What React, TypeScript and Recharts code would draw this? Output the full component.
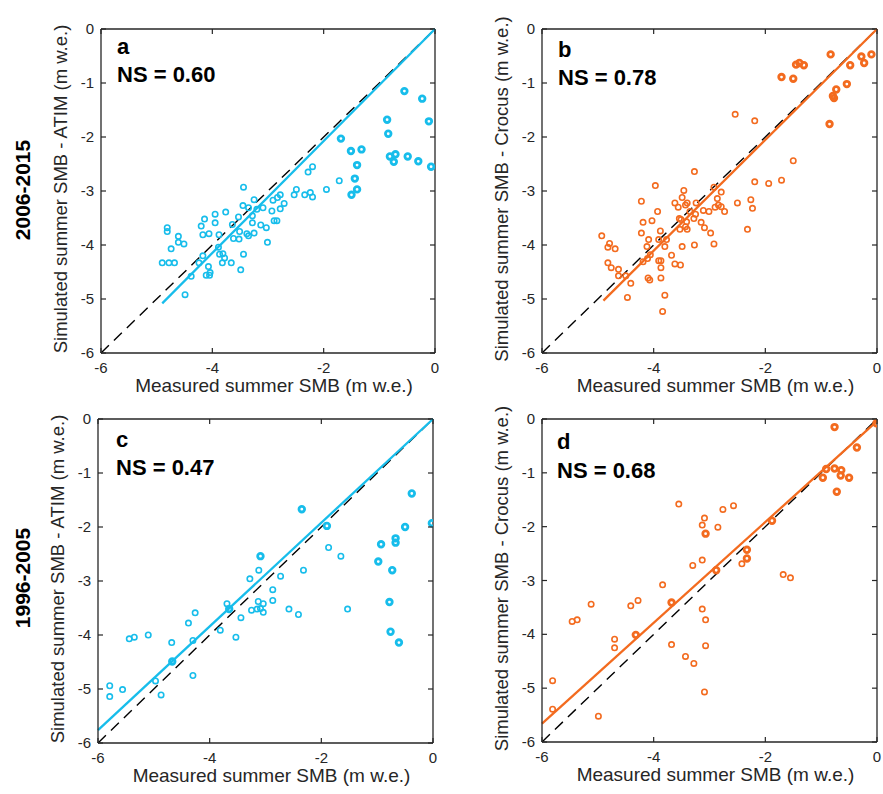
import React from 'react';
import { ScatterChart, Scatter, XAxis, YAxis, ReferenceLine } from 'recharts';

type Pt = { x: number; y: number };
const toPts = (arr: number[][]): Pt[] => arr.map(([x, y]) => ({ x, y }));

const xTicks = [-6, -4, -2, 0];
const yTicks = [0, -1, -2, -3, -4, -5, -6];
const oneToOne = [{ x: -6, y: -6 }, { x: 0, y: 0 }];

const CYAN = '#17bdeb';
const ORANGE = '#f36b1f';

// Panel a: 2006-2015, ATIM
const atimRecentOpen = [
  [-2.20, -2.55], [-2.28, -2.65], [-1.72, -2.81], [-1.95, -2.97], [-2.49, -2.97], [-2.53, -3.07], [-2.34, -3.07],
  [-2.24, -3.03], [-2.20, -3.11], [-2.78, -3.07], [-2.71, -3.23], [-2.83, -3.12], [-2.91, -3.17], [-2.78, -3.33],
  [-2.93, -3.37], [-2.89, -3.55], [-2.84, -3.55], [-3.13, -3.63], [-3.03, -3.68], [-3.01, -3.95], [-3.44, -2.93],
  [-3.25, -3.16], [-3.45, -3.27], [-3.35, -3.31], [-3.20, -3.34], [-3.09, -3.31], [-3.28, -3.46], [-3.53, -3.48],
  [-3.28, -3.59], [-3.51, -3.75], [-3.38, -3.79], [-3.25, -3.78], [-3.35, -3.83], [-3.52, -3.89], [-3.62, -3.88],
  [-3.64, -3.62], [-3.44, -4.17], [-3.49, -4.46], [-3.76, -3.39], [-3.95, -3.43], [-3.95, -3.59], [-4.14, -3.52],
  [-4.20, -3.65], [-4.17, -3.81], [-4.06, -3.79], [-3.88, -3.81], [-3.89, -4.04], [-3.87, -4.17], [-3.81, -4.16],
  [-3.78, -4.24], [-3.82, -4.33], [-3.66, -4.33], [-4.17, -4.20], [-4.24, -4.33], [-4.07, -4.40], [-4.04, -4.51],
  [-4.11, -4.56], [-4.05, -4.56], [-4.38, -4.58], [-4.49, -4.92], [-4.81, -3.68], [-4.81, -3.75], [-4.74, -4.07],
  [-4.61, -3.84], [-4.61, -3.95], [-4.51, -3.98], [-4.90, -4.33], [-4.78, -4.33], [-4.68, -4.33],
];
const atimRecentBold = [
  [-0.55, -1.15], [-0.23, -1.29], [-0.11, -1.71], [-0.86, -1.68], [-0.84, -1.94], [-0.81, -2.36], [-0.71, -2.32],
  [-0.74, -2.46], [-0.49, -2.36], [-0.30, -2.45], [-0.07, -2.55], [-1.69, -2.03], [-1.51, -2.26], [-1.32, -2.23],
  [-1.40, -2.52], [-1.44, -2.77], [-1.40, -2.97], [-1.50, -3.07],
];
const atimRecentFit = [[-4.9, -5.08], [0, 0]];

// Panel b: 2006-2015, Crocus
const crocusRecentOpen = [
  [-2.54, -1.58], [-2.19, -1.70], [-1.50, -2.44], [-2.19, -2.83], [-1.94, -2.86], [-1.71, -2.80], [-2.26, -3.16],
  [-2.23, -3.32], [-2.32, -3.71], [-2.50, -3.22], [-3.27, -2.64], [-3.97, -2.90], [-3.46, -2.99], [-2.92, -2.93],
  [-2.79, -3.02], [-2.86, -3.14], [-2.84, -3.26], [-2.79, -3.29], [-2.90, -3.30], [-2.73, -3.38], [-3.01, -3.38],
  [-3.11, -3.36], [-3.49, -3.12], [-3.62, -3.22], [-3.56, -3.30], [-3.43, -3.26], [-3.40, -3.22], [-3.24, -3.22],
  [-3.35, -3.38], [-3.25, -3.43], [-3.28, -3.51], [-3.54, -3.51], [-3.51, -3.53], [-3.41, -3.57], [-3.43, -3.66],
  [-3.40, -3.71], [-3.53, -3.71], [-3.15, -3.58], [-3.09, -3.68], [-2.98, -3.78], [-2.92, -3.98], [-3.27, -4.00],
  [-3.49, -4.03], [-4.22, -3.19], [-3.93, -3.38], [-4.19, -3.58], [-4.03, -3.55], [-4.22, -3.78], [-3.88, -3.74],
  [-4.09, -3.90], [-3.91, -3.90], [-3.77, -3.90], [-4.12, -4.03], [-3.80, -4.03], [-4.06, -4.18], [-4.11, -4.25],
  [-3.68, -4.19], [-3.91, -4.29], [-3.87, -4.29], [-3.87, -4.42], [-3.62, -4.35], [-3.52, -4.37], [-4.19, -4.31],
  [-4.10, -4.61], [-4.07, -4.65], [-3.87, -4.61], [-4.41, -4.71], [-4.47, -4.97], [-3.80, -4.93], [-3.84, -5.23],
  [-4.93, -3.83], [-4.79, -3.97], [-4.82, -4.04], [-4.69, -4.07], [-4.82, -4.33], [-4.76, -4.42], [-4.63, -4.45],
  [-4.63, -4.57], [-4.50, -4.57],
];
const crocusRecentBold = [
  [-0.83, -0.47], [-1.45, -0.66], [-1.39, -0.63], [-1.31, -0.67], [-1.71, -0.89], [-1.50, -0.92], [-0.28, -0.51],
  [-0.10, -0.47], [-0.48, -0.67], [-0.23, -0.63], [-0.54, -1.02], [-0.73, -1.12], [-0.79, -1.24], [-0.77, -1.28],
  [-0.85, -1.76],
];
const crocusRecentFit = [[-4.9, -5.03], [0, 0]];

// Panel c: 1996-2005, ATIM
const atimEarlyOpen = [
  [-1.87, -2.38], [-1.65, -2.54], [-2.32, -2.80], [-1.53, -3.52], [-2.73, -2.91], [-3.12, -2.80], [-3.28, -2.96],
  [-2.87, -3.16], [-2.87, -3.36], [-3.13, -3.38], [-3.04, -3.42], [-3.09, -3.51], [-3.15, -3.52], [-3.04, -3.58],
  [-3.25, -3.54], [-2.58, -3.52], [-2.41, -3.62], [-3.69, -3.42], [-3.44, -3.68], [-3.81, -3.91], [-3.53, -4.04],
  [-4.26, -3.59], [-4.38, -3.78], [-4.30, -4.10], [-4.68, -4.14], [-4.30, -4.75], [-5.10, -4.00], [-5.35, -4.04],
  [-5.44, -4.07], [-4.97, -4.85], [-4.87, -5.11], [-5.56, -5.01], [-5.79, -4.94], [-5.79, -5.14],
];
const atimEarlyBold = [
  [-2.35, -1.67], [-1.90, -1.98], [-3.09, -2.54], [-3.65, -3.52], [-4.67, -4.49], [-0.38, -1.38], [-0.02, -1.93],
  [-0.50, -2.00], [-0.93, -2.32], [-0.67, -2.21], [-0.67, -2.29], [-0.98, -2.64], [-0.73, -2.80], [-0.78, -3.39],
  [-0.76, -3.94], [-0.61, -4.14],
];
const atimEarlyFit = [[-6, -5.76], [0, 0]];

// Panel d: 1996-2005, Crocus
const crocusEarlyOpen = [
  [-3.55, -1.58], [-2.76, -1.68], [-2.57, -1.61], [-3.09, -1.84], [-3.13, -1.97], [-2.85, -2.01], [-3.13, -2.62],
  [-3.30, -2.72], [-2.42, -2.69], [-1.68, -2.89], [-1.55, -2.95], [-3.84, -3.08], [-3.13, -3.53], [-3.07, -3.73],
  [-3.07, -4.21], [-3.09, -5.07], [-3.68, -4.19], [-3.43, -4.41], [-3.28, -4.54], [-4.41, -3.47], [-4.28, -3.37],
  [-5.12, -3.44], [-5.46, -3.76], [-5.37, -3.73], [-4.70, -4.09], [-4.70, -4.25], [-4.99, -5.52], [-5.81, -4.86],
  [-5.81, -5.39],
];
const crocusEarlyBold = [
  [-0.76, -0.15], [-0.36, -0.53], [-0.01, -0.08], [-0.91, -0.93], [-0.76, -0.92], [-0.64, -0.95], [-0.65, -1.05],
  [-0.97, -1.09], [-0.50, -1.09], [-0.72, -1.35], [-1.88, -1.89], [-3.07, -2.13], [-2.33, -2.43], [-2.33, -2.59],
  [-2.88, -2.81], [-3.68, -3.41], [-4.32, -4.01],
];
const crocusEarlyFit = [[-6, -5.66], [0, -0.04]];

const AX = '#262626';
const FONT = '"Liberation Sans", Arial, Helvetica, sans-serif';

type PanelProps = {
  left: number; top: number; w: number; h: number;
  color: string; open: number[][]; bold: number[][]; fit: number[][];
};

function Panel({ left, top, w, h, color, open, bold, fit }: PanelProps) {
  const ML = 60, MT = 10, MR = 10, XH = 50;
  const XTick = (p: any) => {
    const { x, y, payload } = p;
    return (
      <g>
        <line x1={x} x2={x} y1={y} y2={y - 5} stroke={AX} strokeWidth={1.2} />
        <line x1={x} x2={x} y1={y - h} y2={y - h + 5} stroke={AX} strokeWidth={1.2} />
        <text x={x} y={y + 20} textAnchor="middle" fontSize={15} fill={AX} fontFamily={FONT}>{String(payload.value)}</text>
      </g>
    );
  };
  const YTick = (p: any) => {
    const { x, y, payload } = p;
    return (
      <g>
        <line x1={x} x2={x + 5} y1={y} y2={y} stroke={AX} strokeWidth={1.2} />
        <line x1={x + w} x2={x + w - 5} y1={y} y2={y} stroke={AX} strokeWidth={1.2} />
        <text x={x - 7} y={y + 5} textAnchor="end" fontSize={15} fill={AX} fontFamily={FONT}>{String(payload.value)}</text>
      </g>
    );
  };
  const openShape = (p: any) => (
    <circle cx={p.cx} cy={p.cy} r={2.7} fill="none" stroke={color} strokeWidth={1.6} />
  );
  const boldShape = (p: any) => (
    <circle cx={p.cx} cy={p.cy} r={2.8} fill="none" stroke={color} strokeWidth={2.8} />
  );
  return (
    <div style={{ position: 'absolute', left: left - ML, top: top - MT }}>
      <ScatterChart width={ML + w + MR} height={MT + h + XH} margin={{ top: MT, right: MR, bottom: 0, left: 0 }}>
        <XAxis type="number" dataKey="x" domain={[-6, 0]} ticks={xTicks} interval={0} allowDataOverflow
          tickSize={0} tickMargin={0} tick={(p: any) => <XTick {...p} />} height={XH}
          axisLine={{ stroke: AX, strokeWidth: 1.3 }} tickLine={false} />
        <YAxis type="number" dataKey="y" domain={[-6, 0]} ticks={yTicks} interval={0} allowDataOverflow
          tickSize={0} tickMargin={0} tick={(p: any) => <YTick {...p} />} width={ML}
          axisLine={{ stroke: AX, strokeWidth: 1.3 }} tickLine={false} />
        <ReferenceLine y={0} stroke={AX} strokeWidth={1.3} />
        <ReferenceLine x={0} stroke={AX} strokeWidth={1.3} />
        <Scatter data={toPts(open)} shape={openShape} isAnimationActive={false} />
        <Scatter data={toPts(bold)} shape={boldShape} isAnimationActive={false} />
        <ReferenceLine segment={oneToOne} stroke="#000" strokeWidth={1.4} strokeDasharray="11 7" />
        <ReferenceLine segment={toPts(fit)} stroke={color} strokeWidth={2.3} />
      </ScatterChart>
    </div>
  );
}

const panels = [
  { left: 101, top: 29, w: 334, h: 324, color: CYAN, open: atimRecentOpen, bold: atimRecentBold, fit: atimRecentFit,
    letter: 'a', ns: 'NS = 0.60', ylab: 'Simulated summer SMB - ATIM (m w.e.)', lx: 16, lb: 25, nb: 53 },
  { left: 542, top: 29, w: 335, h: 324, color: ORANGE, open: crocusRecentOpen, bold: crocusRecentBold, fit: crocusRecentFit,
    letter: 'b', ns: 'NS = 0.78', ylab: 'Simulated summer SMB - Crocus (m w.e.)', lx: 16, lb: 28, nb: 56 },
  { left: 98, top: 419, w: 335, h: 324, color: CYAN, open: atimEarlyOpen, bold: atimEarlyBold, fit: atimEarlyFit,
    letter: 'c', ns: 'NS = 0.47', ylab: 'Simulated summer SMB - ATIM (m w.e.)', lx: 18, lb: 28, nb: 56 },
  { left: 542, top: 419, w: 335, h: 323, color: ORANGE, open: crocusEarlyOpen, bold: crocusEarlyBold, fit: crocusEarlyFit,
    letter: 'd', ns: 'NS = 0.68', ylab: 'Simulated summer SMB - Crocus (m w.e.)', lx: 15, lb: 30, nb: 59 },
];

const rowLabels = [
  { text: '2006-2015', cy: 190 },
  { text: '1996-2005', cy: 578 },
];

export default function App() {
  return (
    <div style={{ position: 'absolute', left: 0, top: 0, width: 883, height: 794, background: '#fff', overflow: 'hidden' }}>
      {panels.map((p) => (
        <Panel key={p.letter} left={p.left} top={p.top} w={p.w} h={p.h} color={p.color} open={p.open} bold={p.bold} fit={p.fit} />
      ))}
      <svg width={883} height={794} style={{ position: 'absolute', left: 0, top: 0, pointerEvents: 'none' }} fontFamily={FONT}>
        {panels.map((p) => (
          <g key={'t' + p.letter}>
            <text x={p.left + p.lx} y={p.top + p.lb} fontSize={22} fontWeight="bold" fill="#000">{p.letter}</text>
            <text x={p.left + p.lx} y={p.top + p.nb} fontSize={22} fontWeight="bold" fill="#000">{p.ns}</text>
            <text x={p.left + p.w / 2 + 6} y={p.top + p.h + 39} fontSize={19} fill={AX} textAnchor="middle">Measured summer SMB (m w.e.)</text>
            <text transform={`translate(${p.left - 34}, ${p.top + p.h / 2 - 2}) rotate(-90)`} fontSize={18.5} fill={AX} textAnchor="middle">{p.ylab}</text>
          </g>
        ))}
        {rowLabels.map((r) => (
          <text key={r.text} transform={`translate(30, ${r.cy}) rotate(-90)`} fontSize={21} fontWeight="bold" fill="#000" textAnchor="middle">{r.text}</text>
        ))}
      </svg>
    </div>
  );
}
